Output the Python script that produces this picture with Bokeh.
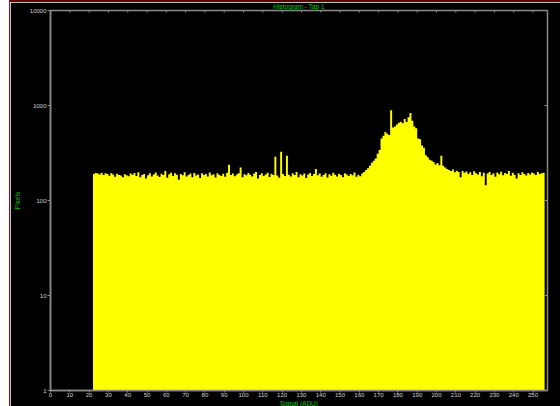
import math
from bokeh.plotting import figure
from bokeh.models import Range1d, FixedTicker, Title, Spacer, PrintfTickFormatter
from bokeh.layouts import row, column
from bokeh.embed import file_html
from bokeh.resources import INLINE

# Histogram of one tap: pixel counts per ADU level (levels 22..255)
first_level = 22
counts = [
    # 22-60
    190, 195, 192, 188, 196, 185, 193, 190, 182, 194,
    188, 178, 191, 186, 183, 176, 189, 184, 180, 192,
    187, 195, 181, 198, 176, 186, 190, 170, 184, 194,
    179, 188, 197, 183, 177, 191, 186, 205, 174,
    # 61-100
    189, 196, 181, 193, 187, 165, 190, 184, 198, 179,
    186, 192, 176, 195, 183, 188, 172, 194, 185, 190,
    179, 197, 184, 189, 175, 193, 186, 181, 191, 178,
    196, 238, 185, 192, 180, 188, 194, 222, 176, 189,
    # 101-140
    184, 195, 187, 179, 192, 199, 170, 186, 193, 181,
    188, 196, 177, 191, 185, 288, 183, 174, 325, 190,
    181, 296, 187, 179, 194, 186, 200, 176, 189, 183,
    192, 172, 188, 195, 181, 190, 215, 184, 192, 178,
    # 141-162
    186, 193, 175, 189, 182, 196, 187, 179, 191, 185,
    176, 193, 188, 181, 190, 184, 197, 178, 187, 180,
    192, 200,
    # 163-195
    210, 218, 232, 250, 262, 276, 310, 340, 450, 480,
    525, 505, 490, 890, 585, 600, 630, 660, 675, 650,
    720, 670, 750, 835, 690, 600, 575, 450, 440, 380,
    360, 300, 285,
    # 196-215
    268, 262, 255, 240, 248, 235, 295, 232, 222, 214,
    210, 205, 212, 198, 206, 200, 176, 204, 196, 202,
    # 216-255
    190, 198, 185, 203, 194, 188, 200, 180, 196, 145,
    192, 199, 186, 194, 178, 197, 189, 201, 184, 195,
    190, 205, 182, 196, 187, 170, 193, 186, 198, 190,
    183, 195, 188, 197, 192, 185, 199, 190, 194, 196,
]
levels = list(range(first_level, first_level + len(counts)))

x_ticks = list(range(0, 251, 10))
y_ticks = [1, 10, 100, 1000, 10000]
x_max = 257.5

title_text = "Histogram - Tap 1"
x_label = "Signal (ADU)"
y_label = "Pixels"

GREEN = "#00c800"
AXIS = "#8a8a8a"
TICK_TEXT = "#d2d2d2"
FONT = "Liberation Sans"

p = figure(
    width=550, height=404,
    x_range=Range1d(0, x_max), y_range=Range1d(y_ticks[0], y_ticks[-1]),
    y_axis_type="log",
    output_backend="svg", toolbar_location=None,
    background_fill_color="black", border_fill_color="black",
    outline_line_color=AXIS, outline_line_width=1.5,
    min_border_left=40, min_border_right=13,
    min_border_top=8, min_border_bottom=16,
)
p.grid.visible = False

# filled step outline of the histogram (one value per level, repeated at the end edge)
edges = levels + [levels[-1] + 1]
tops = counts + [counts[-1]]
p.varea_step(x=edges, y1=[1] * len(edges), y2=tops, step_mode="after",
             fill_color="#ffff00")

# inward ticks on the top and right frame edges
p.scatter(x=x_ticks, y=[y_ticks[-1]] * len(x_ticks), marker="dash",
          angle=math.pi / 2, size=4, line_color=AXIS, line_width=1)
p.scatter(x=[x_max] * len(y_ticks), y=y_ticks, marker="dash",
          size=6, line_color=AXIS, line_width=1)

# title and x label as titles so they can be shifted together
p.title.text = title_text
p.title.align = "center"
p.title.offset = -11
p.title.standoff = -2
p.title.vertical_align = "top"
p.title.text_font = FONT
p.title.text_font_size = "6.5px"
p.title.text_font_style = "normal"
p.title.text_color = GREEN

xt = Title(text=x_label, align="center", offset=-11, standoff=-4,
           text_font=FONT, text_font_size="6.5px", text_font_style="normal",
           text_color=GREEN)
p.add_layout(xt, "below")


def style_axis(ax):
    ax.axis_line_color = AXIS
    ax.axis_line_width = 1.5
    ax.major_tick_line_color = AXIS
    ax.minor_tick_line_color = None
    ax.major_label_text_color = TICK_TEXT
    ax.major_label_text_font = FONT
    ax.major_label_text_font_size = "6px"


xa = p.xaxis[0]
xa.ticker = FixedTicker(ticks=x_ticks)
style_axis(xa)
xa.major_tick_in = 0
xa.major_tick_out = 2
xa.major_label_standoff = 0

ya = p.yaxis[0]
ya.ticker = FixedTicker(ticks=y_ticks)
ya.formatter = PrintfTickFormatter(format="%d")
style_axis(ya)
ya.major_tick_in = 0
ya.major_tick_out = 3
ya.major_label_standoff = 1
ya.axis_label = y_label
ya.axis_label_text_color = GREEN
ya.axis_label_text_font = FONT
ya.axis_label_text_font_size = "6.5px"
ya.axis_label_text_font_style = "normal"
ya.axis_label_standoff = 6

# window frame: white margin strip with dark red edges
strip = Spacer(width=9, height=406, styles={"background-color": "#ffffff"})
vline = Spacer(width=1, height=406, styles={"background-color": "#9a1010"})
hline = Spacer(width=550, height=2, styles={"background-color": "#5c0000"})
page = row(strip, vline, column(hline, p))

open("out.html", "w").write(file_html(page, INLINE))
